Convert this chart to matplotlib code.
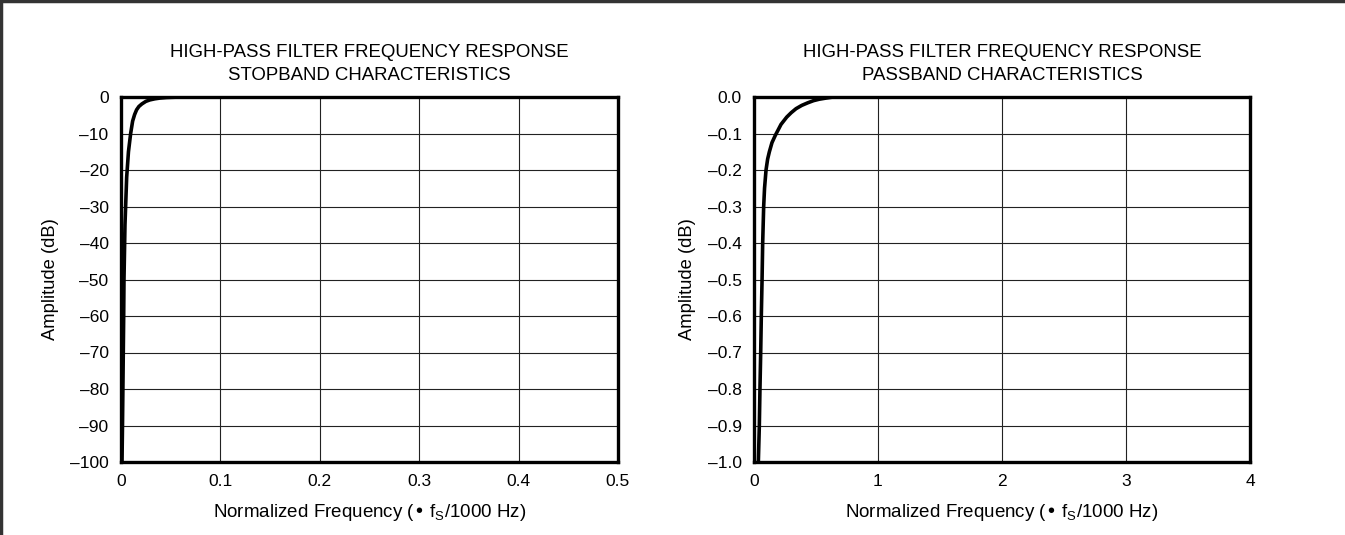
import matplotlib
matplotlib.use("Agg")
import matplotlib.pyplot as plt
from matplotlib.lines import Line2D

plt.rcParams['font.family'] = ['Liberation Sans', 'DejaVu Sans']

# stopband curve, x in fs/1000 Hz, y in dB
stop_freq = [0.001, 0.0015, 0.0019, 0.0023, 0.0027, 0.003, 0.004, 0.0057, 0.0075, 0.0097,
             0.0117, 0.0137, 0.0157, 0.018, 0.021, 0.025, 0.029, 0.034, 0.039,
             0.046, 0.056, 0.07, 0.5]
stop_db = [-100, -90, -80, -70, -60, -50, -35, -22, -15, -10,
           -6.6, -4.8, -3.5, -2.6, -1.9, -1.2, -0.8, -0.5, -0.3,
           -0.14, -0.04, 0, 0]

# passband curve
pass_freq = [0.035, 0.043, 0.048, 0.054, 0.059, 0.065, 0.07, 0.078, 0.085, 0.097,
             0.11, 0.124, 0.145, 0.172, 0.218, 0.264, 0.3, 0.339, 0.385, 0.433,
             0.48, 0.527, 0.58, 0.64, 4.0]
pass_db = [-1.0, -0.9, -0.8, -0.7, -0.6, -0.5, -0.4, -0.3, -0.25, -0.2,
           -0.17, -0.15, -0.125, -0.105, -0.075, -0.055, -0.043, -0.032, -0.023, -0.016,
           -0.01, -0.006, -0.003, 0.0, 0.0]

stop_xticks = [0, 0.1, 0.2, 0.3, 0.4, 0.5]
stop_xlabels = ['0', '0.1', '0.2', '0.3', '0.4', '0.5']
stop_yticks = list(range(0, -101, -10))
stop_ylabels = ['0'] + ['\u2013%d' % (-v) for v in stop_yticks[1:]]

pass_xticks = [0, 1, 2, 3, 4]
pass_xlabels = ['0', '1', '2', '3', '4']
pass_yticks = [-i / 10 for i in range(11)]
pass_ylabels = ['0.0'] + ['\u2013%.1f' % (-v) for v in pass_yticks[1:]]

fig = plt.figure(figsize=(13.45, 5.35), dpi=100)

xlab = 'Normalized Frequency (\u2022 f$_\\mathregular{S}$/1000 Hz)'


def panel(rect, x, y, xt, xl, yt, yl, xlim, ylim, title):
    ax = fig.add_axes(rect)
    ax.plot(x, y, color='black', lw=2.6, solid_joinstyle='round')
    ax.set_xlim(*xlim)
    ax.set_ylim(*ylim)
    ax.set_xticks(xt)
    ax.set_xticklabels(xl)
    ax.set_yticks(yt)
    ax.set_yticklabels(yl)
    ax.grid(True, color='#222222', lw=0.8)
    ax.tick_params(length=0, labelsize=12.5, pad=9)
    for s in ax.spines.values():
        s.set_linewidth(2.4)
    ax.set_xlabel(xlab, fontsize=13.5, labelpad=9)
    ax.set_ylabel('Amplitude (dB)', fontsize=13.2, labelpad=8)
    ax.set_title(title, fontsize=13.4, pad=12, linespacing=1.5)
    return ax


W, H = 1345, 535
panel([121 / W, 1 - 462 / H, 497 / W, 365 / H], stop_freq, stop_db,
      stop_xticks, stop_xlabels, stop_yticks, stop_ylabels, (0, 0.5), (-100, 0),
      'HIGH-PASS FILTER FREQUENCY RESPONSE\nSTOPBAND CHARACTERISTICS')
panel([754 / W, 1 - 462 / H, 496 / W, 365 / H], pass_freq, pass_db,
      pass_xticks, pass_xlabels, pass_yticks, pass_ylabels, (0, 4), (-1.0, 0.0),
      'HIGH-PASS FILTER FREQUENCY RESPONSE\nPASSBAND CHARACTERISTICS')

# page frame: top and left edges
fig.add_artist(Line2D([0.001, 0.001], [0, 0.998], transform=fig.transFigure, color='#333333', lw=2.5))
fig.add_artist(Line2D([0, 1], [0.998, 0.998], transform=fig.transFigure, color='#333333', lw=2.5))

fig.savefig('out.png', dpi=100, facecolor='white')
